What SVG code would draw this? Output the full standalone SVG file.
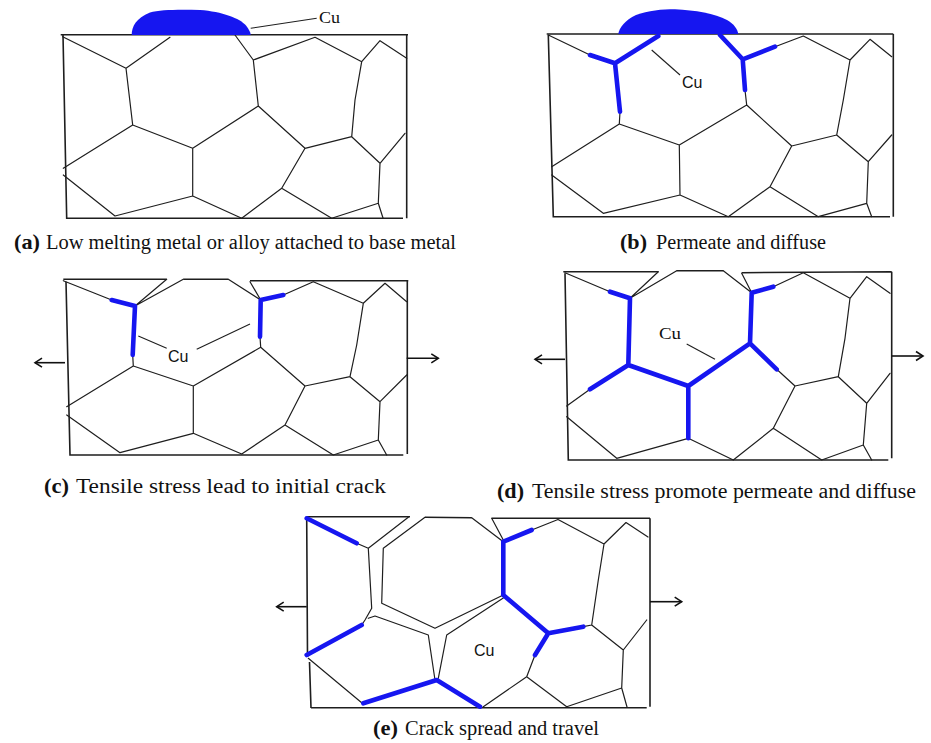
<svg xmlns="http://www.w3.org/2000/svg" width="931" height="743" viewBox="0 0 931 743">
  <defs>
    <style>
      .frame { fill: none; stroke: #1e1e1e; stroke-width: 1.6; }
      .gb { fill: none; stroke: #1e1e1e; stroke-width: 1.2; stroke-linecap: round; stroke-linejoin: round; }
      .cu { fill: none; stroke: #1616f0; stroke-width: 4.6; stroke-linecap: round; stroke-linejoin: round; }
      .blob { fill: #1616f0; }
      .lead { fill: none; stroke: #1e1e1e; stroke-width: 1.1; }
      .arrow { fill: none; stroke: #111; stroke-width: 1.6; marker-end: url(#openHead); }
      .lbl-serif { font-family: "Liberation Serif", "Times New Roman", serif; font-size: 17px; fill: #111; }
      .lbl-sans { font-family: "Liberation Sans", Arial, sans-serif; font-size: 16px; fill: #111; }
      .cap { font-family: "Liberation Serif", "Times New Roman", serif; font-size: 20px; fill: #111; }
      .tag { font-family: "Liberation Serif", "Times New Roman", serif; font-size: 21px; font-weight: bold; fill: #111; }
    </style>
    <marker id="openHead" viewBox="-9 -6 11 12" refX="0" refY="0" markerWidth="11" markerHeight="12" markerUnits="userSpaceOnUse" orient="auto">
      <path d="M-7,-4.5 L0,0 L-7,4.5" fill="none" stroke="#111" stroke-width="1.6"/>
    </marker>
  </defs>
  <rect width="931" height="743" fill="#ffffff"/>

  <!-- (a) copper droplet sitting on the base metal -->
  <g id="panel-a">
    <path class="frame" d="M60.7,34.7 L408,34.7 M63,35 L66.7,218.3 L403,218.3 M406.7,34.7 L406.7,218.3"/>
    <path class="gb" d="M62.7,36.7 L126,68.3 L170,37.3
      M126,68.3 L132.7,125 L63.3,168.3
      M132.7,125 L192.7,148.3 L258.3,106 L253.3,60 L235,35
      M253.3,60 L315,37.3 L361.7,61.7 L380,40.7 L406.7,58.3
      M361.7,61.7 L355,100 L351.7,136.7 L305,148.3 L258.3,106
      M351.7,136.7 L380,163.3 L405,133.3
      M380,163.3 L378.3,203.3 L383,218
      M305,148.3 L281.7,188.3 L241.7,218.3
      M192.7,148.3 L192.7,196 L241.7,218.3
      M192.7,196 L115,216 L63.3,175
      M281.7,188.3 L331.7,218.3 L378.3,203.3"/>
    <path class="blob" d="M131.7,35 C131.5,27 136,18 150,12.5 C160,9.5 180,9.5 200,10 C222,11.5 240,18.5 246,25.5 C249,29.5 250.5,32 250.7,35 Z"/>
    <path class="lead" d="M250.7,28.3 L316.7,18.3"/>
    <text class="lbl-serif" x="319" y="23" textLength="21" lengthAdjust="spacingAndGlyphs">Cu</text>
  </g>

  <!-- (b) copper entering the grain boundaries -->
  <g id="panel-b">
    <path class="frame" d="M546.7,34 L893.3,34 M548.3,35 L553.3,216.7 L890,216.7 M893.3,34 L893.3,216.7"/>
    <path class="gb" d="M548.3,35 L590,55
      M620,111.7 L619.3,124 L551.7,166.7
      M619.3,124 L679.3,145 L746.7,105 L745,90
      M775,46.7 L803.3,36 L850,60 L870,39.3 L891.7,56.7
      M850,60 L843.3,100 L836.7,135 L791.7,146 L746.7,105
      M836.7,135 L868.3,161.7 L891.7,135
      M868.3,161.7 L866.7,203.3 L871.7,216.7
      M791.7,146 L770,186.7 L728.3,216.7
      M679.3,145 L680,195 L728.3,216.7
      M680,195 L603.3,213.3 L551.7,175
      M770,186.7 L818.3,216.7 L866.7,203.3"/>
    <path class="cu" d="M590,55 L615,63.3 L658.3,36
      M615,63.3 L620,111.7
      M745,90 L742.7,59.3 L720,35
      M742.7,59.3 L775,46.7"/>
    <path class="blob" d="M618.3,34 C619,28 625,20 636,15 C648,10.5 662,9.3 675,9.3 C695,10 715,14 727,20 C734,24 737.5,29 738.3,34 Z"/>
    <path class="lead" d="M651.7,50 L680,75"/>
    <text class="lbl-sans" x="682" y="88">Cu</text>
  </g>

  <!-- (c) tensile load opens the first boundary notches -->
  <g id="panel-c">
    <path class="frame" d="M63.3,279.3 L166.7,279.3 M183.3,279.3 L228.3,279.3 M250,280.7 L408.3,280.7 M66,281.7 L70,455 L403.3,455 M407.3,280.7 L407.3,454"/>
    <path class="gb" d="M63.3,280.7 L111.7,300
      M135,306 L166.7,279.3
      M135,306 L183.3,279.3
      M132.7,355 L133.3,366 L66.7,406.7
      M133.3,366 L193.3,386 L260.7,347.3 L260,336.7
      M260.7,300 L228.3,279.3
      M260.7,300 L250,281.7
      M283.3,295 L313.3,281.7 L363.3,303.3 L385,283.3 L406.7,301.7
      M363.3,303.3 L356.7,345 L350,376.7 L305,386 L260.7,347.3
      M350,376.7 L380,401.7 L406.7,375
      M380,401.7 L378.3,440 L386.7,455
      M305,386 L285,425 L241.7,454
      M193.3,386 L193.3,433.3 L241.7,454
      M193.3,433.3 L120,452.7 L66.7,415
      M285,425 L333.3,455 L378.3,440"/>
    <path class="cu" d="M111.7,300 L135,306 L132.7,355
      M260,336.7 L260.7,300 L283.3,295"/>
    <path class="lead" d="M138.3,336 L166.7,348.3 M196.7,349.3 L250,324"/>
    <text class="lbl-sans" x="168" y="362">Cu</text>
    <path class="arrow" d="M65,362.7 L35,362.7"/>
    <path class="arrow" d="M406.7,358.3 L438.3,358.3"/>
  </g>

  <!-- (d) load drives copper deeper along the boundaries -->
  <g id="panel-d">
    <path class="frame" d="M563.3,271.7 L658.3,271.7 M676.7,270.7 L723.3,270.7 M741.7,272.7 L891.7,271.7 M565,273.3 L568.3,460 L888.3,460 M891.7,271.7 L891.7,458.3"/>
    <path class="gb" d="M565,272.7 L610,291.7
      M630,298.3 L658.3,271.7
      M630,298.3 L676.7,270.7
      M590,389.3 L566.7,406
      M751.7,292.7 L723.3,270.7
      M751.7,292.7 L741.7,273.3
      M773.3,286.7 L803.3,272.7 L850,298.3 L866.7,276.7 L890,293.3
      M850,298.3 L845,338.3 L838.3,376.7 L795,386 L776.7,369.3
      M838.3,376.7 L866.7,403.3 L890,373.3
      M866.7,403.3 L863.3,445 L871.7,460
      M795,386 L773.3,428.3 L733.3,460
      M688.3,438.3 L733.3,460
      M688.3,438.3 L616.7,458.3 L566.7,416.7
      M773.3,428.3 L821.7,460 L863.3,445"/>
    <path class="cu" d="M610,291.7 L630,298.3 L628.3,365 L590,389.3
      M628.3,365 L688.3,386 L688.3,438.3
      M688.3,386 L750,343.3 L751.7,292.7 L773.3,286.7
      M750,343.3 L776.7,369.3"/>
    <path class="lead" d="M686.7,344 L715,359.3"/>
    <text class="lbl-serif" x="659" y="339" textLength="22" lengthAdjust="spacingAndGlyphs">Cu</text>
    <path class="arrow" d="M565,359.3 L535,359.3"/>
    <path class="arrow" d="M891.7,356 L923,356"/>
  </g>

  <!-- (e) crack opens along the copper-wetted boundaries -->
  <g id="panel-e">
    <path class="frame" d="M306.7,516.7 L410,516.7 M425,517.3 L471.7,517.7 M491.7,518.3 L650,518.3 M306.7,518.3 L307.5,657 M309.5,662 L311,708 M311,707.7 L646.7,707.7 M650,518.3 L650,706.7"/>
    <path class="gb" d="M356.7,543.3 L368.3,548.3 L408.3,517.3
      M368.3,548.3 L371.7,608.3 L365,620 L361.7,625
      M383.3,548.3 L425,517.3
      M383.3,548.3 L381.7,603.3 L435,628.3 L503.3,595
      M368.3,618.3 L375,616 L428.3,635 L435,680
      M503.3,598 L446.7,635 L438.3,678.3
      M471.7,517.7 L503.3,541.7
      M491.7,518.3 L503.3,540
      M531.7,530 L558,519.5 L604,544 L626,522.5 L648,537
      M604,544 L598.3,580 L591.7,625 L583.3,626.7
      M591.7,625 L623.3,650 L646.7,620
      M623.3,650 L621.7,688 L627,707
      M535,655 L526.7,676.7 L483.3,706.7
      M526.7,676.7 L566.7,706.7 L621.7,688
      M308.3,658.3 L361.7,702.7"/>
    <path class="cu" d="M306.7,518.3 L356.7,543.3
      M503.3,541.7 L531.7,530
      M503.3,541.7 L503.3,595
      M503.3,595 L548.3,633.3 L583.3,626.7
      M548.3,633.3 L535,655
      M361.7,625 L306.7,655
      M363.3,703.3 L436.7,680 L480,706.7"/>
    <text class="lbl-sans" x="474" y="656" font-size="15">Cu</text>
    <path class="arrow" d="M306.7,606.7 L276.7,606.7"/>
    <path class="arrow" d="M650,601.7 L681.7,601.7"/>
  </g>

  <!-- captions -->
  <g id="captions">
    <text class="tag" x="14" y="249" textLength="26" lengthAdjust="spacingAndGlyphs">(a)</text>
    <text class="cap" x="46" y="249" textLength="410" lengthAdjust="spacingAndGlyphs">Low melting metal or alloy attached to base metal</text>
    <text class="tag" x="620" y="249" textLength="27" lengthAdjust="spacingAndGlyphs">(b)</text>
    <text class="cap" x="656" y="249" textLength="170" lengthAdjust="spacingAndGlyphs">Permeate and diffuse</text>
    <text class="tag" x="44" y="493" textLength="25" lengthAdjust="spacingAndGlyphs">(c)</text>
    <text class="cap" x="76" y="493" textLength="310" lengthAdjust="spacingAndGlyphs">Tensile stress lead to initial crack</text>
    <text class="tag" x="497" y="498" textLength="27" lengthAdjust="spacingAndGlyphs">(d)</text>
    <text class="cap" x="532" y="498" textLength="384" lengthAdjust="spacingAndGlyphs">Tensile stress promote permeate and diffuse</text>
    <text class="tag" x="373" y="735" textLength="25" lengthAdjust="spacingAndGlyphs">(e)</text>
    <text class="cap" x="405" y="735" textLength="194" lengthAdjust="spacingAndGlyphs">Crack spread and travel</text>
  </g>
</svg>
